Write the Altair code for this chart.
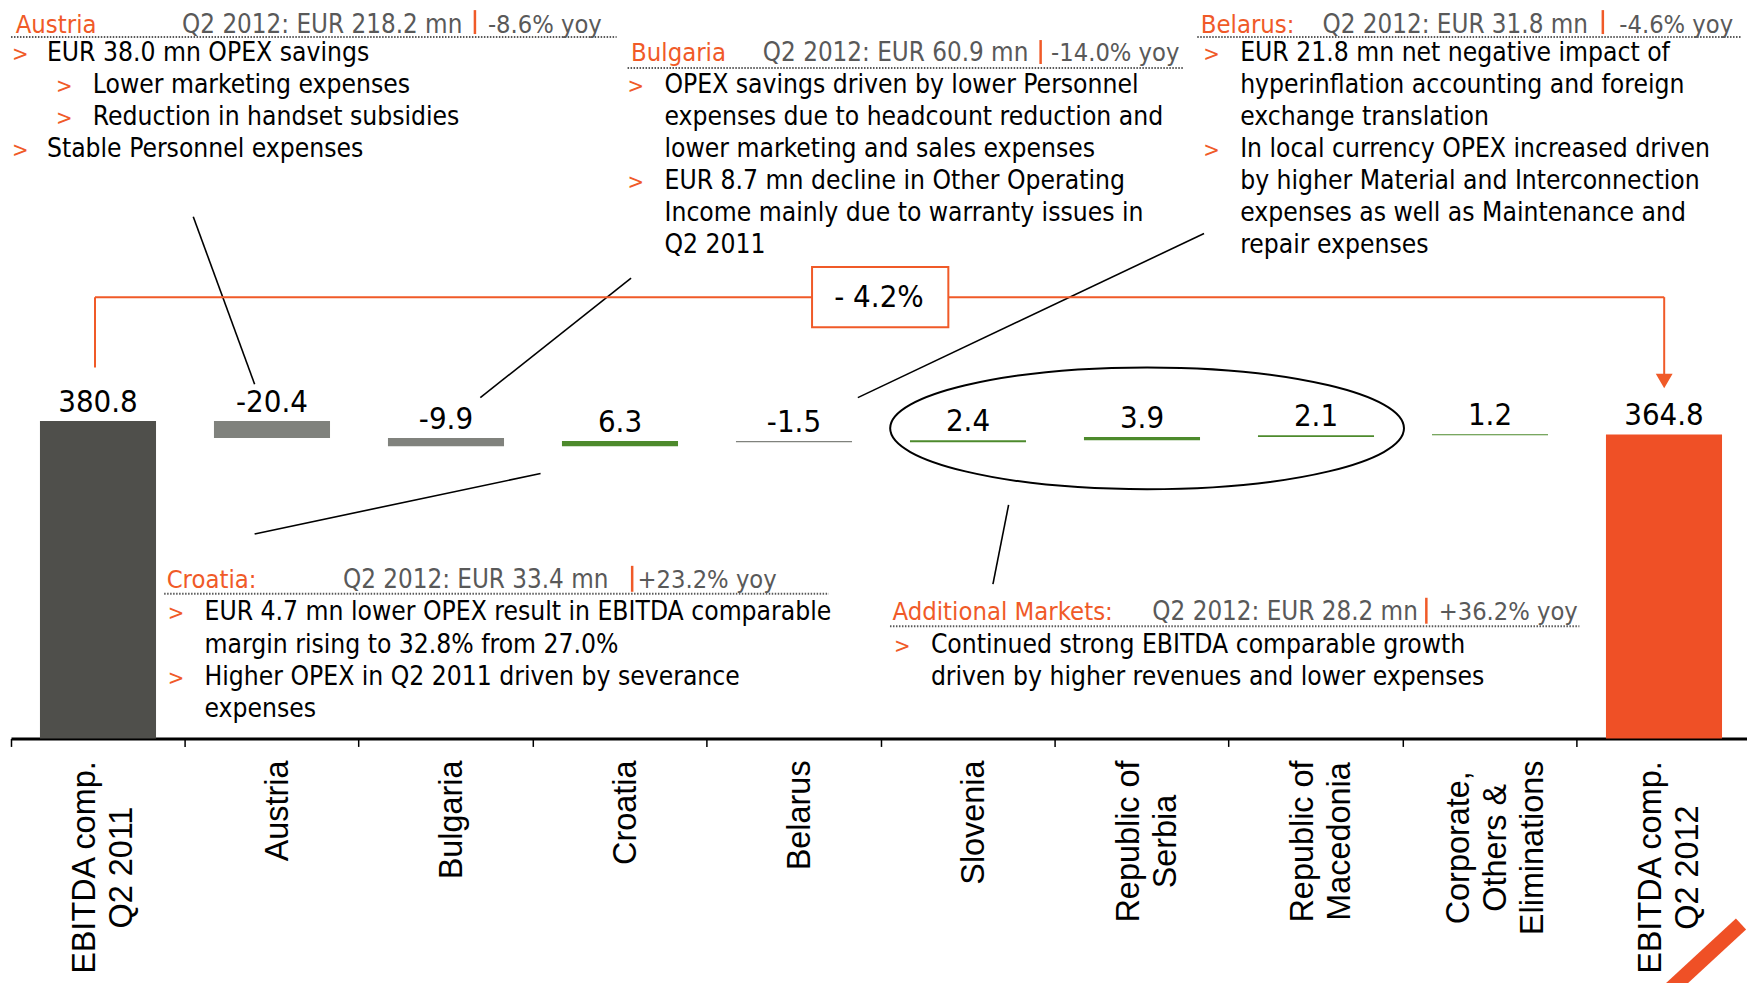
import altair as alt
import pandas as pd

# ---------------- data ----------------
categories = ["EBITDA comp.\nQ2 2011", "Austria", "Bulgaria", "Croatia", "Belarus", "Slovenia",
              "Republic of\nSerbia", "Republic of\nMacedonia", "Corporate,\nOthers &\nEliminations",
              "EBITDA comp.\nQ2 2012"]
values = [380.8, -20.4, -9.9, 6.3, -1.5, 2.4, 3.9, 2.1, 1.2, 364.8]
kinds = ["start", "delta", "delta", "delta", "delta", "delta", "delta", "delta", "delta", "end"]

# ---------------- styles ----------------
DARK, NEG, POS, END = "#4F4F4B", "#80827D", "#4D8A2C", "#EF5026"
ORANGE, GREY = "#F05A28", "#595959"
FONT = "'DejaVu Sans Condensed', 'Liberation Sans', sans-serif"
NUMFONT = "'DejaVu Sans Condensed', 'Liberation Sans Narrow', 'Liberation Sans', sans-serif"
AXFONT = "'Liberation Sans', Arial, sans-serif"
W, H = 1744, 731
OX, OY = 11, 8          # page position of the plot origin
YMAX = 875
LAB_SIZE, LAB_LH = 32.5, 37

# ---------------- waterfall table ----------------
rows, run = [], 0.0
for c, v, k in zip(categories, values, kinds):
    if k == "delta":
        s, e = run, run + v
        run = e
        col = NEG if v < 0 else POS
    else:
        s, e = 0.0, v
        run = v
        col = DARK if k == "start" else END
    rows.append({"cat": c, "start": s, "end": e, "top": max(s, e),
                 "lab": f"{v:.1f}", "col": col, "n": c.count("\n") + 1})
df = pd.DataFrame(rows)

# x-axis label anchor (labels are top-aligned, lines centred) from Arial widths
AW = {' ': 278, '.': 278, ',': 278, '&': 667, 'A': 667, 'B': 667, 'C': 722, 'D': 722, 'E': 667,
      'I': 278, 'M': 833, 'O': 778, 'Q': 778, 'R': 722, 'S': 667, 'T': 611, 'a': 556, 'b': 556,
      'c': 500, 'd': 556, 'e': 556, 'f': 278, 'g': 556, 'h': 556, 'i': 222, 'l': 222, 'm': 833,
      'n': 556, 'o': 556, 'p': 556, 'r': 333, 's': 500, 't': 278, 'u': 556, 'v': 500, 'y': 500}
def twidth(s):
    return sum(AW.get(ch, 556) for ch in s) * LAB_SIZE / 1000
df["ly"] = [761 - OY + max(twidth(l) for l in c.split("\n")) / 2 for c in categories]

xsc = alt.Scale(paddingInner=0, paddingOuter=0)
ysc = alt.Scale(domain=[0, YMAX], nice=False, zero=True)
X = alt.X("cat:N", sort=categories, scale=xsc, title=None)

bars = alt.Chart(df).mark_bar(width=alt.RelativeBandSize(0.667)).encode(
    x=alt.X("cat:N", sort=categories, scale=xsc, title=None,
            axis=alt.Axis(labels=False, title=None, grid=False, domainColor="black",
                          domainWidth=3, tickColor="black", tickWidth=1.5, tickSize=8,
                          bandPosition=0)),
    y=alt.Y("start:Q", scale=ysc, axis=None),
    y2="end:Q",
    color=alt.Color("col:N", scale=None),
)

vlabels = alt.Chart(df).mark_text(font=NUMFONT, fontSize=31, baseline="alphabetic",
                                  dy=-9, color="black").encode(
    x=X, y=alt.Y("top:Q", scale=ysc, axis=None), text="lab:N")

def xlabel_layer(n):
    return alt.Chart(df).transform_filter(alt.datum.n == n).mark_text(
        font=AXFONT, fontSize=LAB_SIZE, angle=270, align="center", baseline="middle",
        lineBreak="\n", lineHeight=LAB_LH, color="black",
        dy=6 - (n - 1) * LAB_LH / 2).encode(
        x=X, y=alt.Y("ly:Q", scale=None, axis=None), text="cat:N")
xlabels = [xlabel_layer(n) for n in (1, 2, 3)]

# ---------------- annotations (page pixel positions) ----------------
B = [32.0, 60.5, 92.4, 124.4, 156.4, 188.5, 220.6, 252.7]
C = [588.0, 620.5, 653.0, 685.5, 717.5]
t = []
BODY = 26.3
def T(x, y, s, c="black", size=BODY):
    t.append({"x": x - OX, "y": y - OY, "t": s, "c": c, "s": size})
def BL(x, y):
    T(x, y, ">", ORANGE, 22)

# headers
for (xo, xg, xy, y, name, q, yoy) in [
        (15.7, 182.5, 489, B[0], "Austria", "Q2 2012: EUR 218.2 mn", "-8.6% yoy"),
        (632.5, 764.6, 1053.5, B[1], "Bulgaria", "Q2 2012: EUR 60.9 mn", "-14.0% yoy"),
        (1203.5, 1325.5, 1623, B[0], "Belarus:", "Q2 2012: EUR 31.8 mn", "-4.6% yoy"),
        (167, 343.7, 639, C[0], "Croatia:", "Q2 2012: EUR 33.4 mn", "+23.2% yoy"),
        (894.5, 1155, 1442, C[1], "Additional Markets:", "Q2 2012: EUR 28.2 mn", "+36.2% yoy")]:
    T(xo, y, name, ORANGE, 25.5)
    T(xg, y, q, GREY, 25.8)
    T(xy, y, yoy, GREY, 25.3)

# Austria
BL(12, B[1]); T(47, B[1], "EUR 38.0 mn OPEX savings")
BL(56, B[2]); T(93, B[2], "Lower marketing expenses")
BL(56, B[3]); T(93, B[3], "Reduction in handset subsidies")
BL(12, B[4]); T(47, B[4], "Stable Personnel expenses")
# Bulgaria
BL(629, B[2]); T(666, B[2], "OPEX savings driven by lower Personnel")
T(666, B[3], "expenses due to headcount reduction and")
T(666, B[4], "lower marketing and sales expenses")
BL(629, B[5]); T(666, B[5], "EUR 8.7 mn decline in Other Operating")
T(666, B[6], "Income mainly due to warranty issues in")
T(666, B[7], "Q2 2011")
# Belarus
BL(1206, B[1]); T(1243, B[1], "EUR 21.8 mn net negative impact of")
T(1243, B[2], "hyperinflation accounting and foreign")
T(1243, B[3], "exchange translation")
BL(1206, B[4]); T(1243, B[4], "In local currency OPEX increased driven")
T(1243, B[5], "by higher Material and Interconnection")
T(1243, B[6], "expenses as well as Maintenance and")
T(1243, B[7], "repair expenses")
# Croatia
BL(168, C[1]); T(205, C[1], "EUR 4.7 mn lower OPEX result in EBITDA comparable")
T(205, C[2], "margin rising to 32.8% from 27.0%")
BL(168, C[3]); T(205, C[3], "Higher OPEX in Q2 2011 driven by severance")
T(205, C[4], "expenses")
# Additional markets
BL(896, C[2]); T(933, C[2], "Continued strong EBITDA comparable growth")
T(933, C[3], "driven by higher revenues and lower expenses")

df_t = pd.DataFrame(t)
PX = lambda f: alt.X(f, scale=None, axis=None)
PY = lambda f: alt.Y(f, scale=None, axis=None)

texts = alt.Chart(df_t).mark_text(font=FONT, align="left", baseline="alphabetic").encode(
    x=PX("x:Q"), y=PY("y:Q"), text="t:N",
    color=alt.Color("c:N", scale=None), size=alt.Size("s:Q", scale=None))

def segs(lst):
    return pd.DataFrame([{"x": a - OX, "y": b - OY, "x2": c - OX, "y2": d - OY}
                         for a, b, c, d in lst])

def rule_layer(lst, **kw):
    return alt.Chart(segs(lst)).mark_rule(**kw).encode(
        x=PX("x:Q"), y=PY("y:Q"), x2="x2:Q", y2="y2:Q")

dotted = rule_layer([(11, 36, 618, 36), (629, 67, 1187, 67), (1200, 36, 1746, 36),
                     (164.5, 594, 830.7, 594), (892, 626.5, 1583, 626.5)],
                    color=GREY, strokeWidth=2, strokeDash=[1.5, 1.5])
seps = rule_layer([(476, 9, 476, 33), (1043, 39, 1043, 63), (1606.5, 9, 1606.5, 33),
                   (633.6, 566, 633.6, 592), (1429.6, 598, 1429.6, 624)],
                  color=ORANGE, strokeWidth=2.5)
connectors = rule_layer([(193.7, 216.1, 255.2, 384), (632.5, 277.6, 481.4, 397.4),
                         (1206.8, 232.9, 859.8, 397.4), (541.8, 473.5, 255.2, 534),
                         (1010.9, 504.9, 995.2, 584.4)],
                        color="black", strokeWidth=1.6)
bracket = rule_layer([(95.2, 367.2, 95.2, 296.7), (95.2, 296.7, 1668, 296.7),
                      (1668, 296.7, 1668, 380)], color=ORANGE, strokeWidth=2)
slash = rule_layer([(1745, 925, 1667, 997)], color=END, strokeWidth=15, strokeCap="butt")

one = pd.DataFrame({"a": [0]})
box = alt.Chart(one).mark_rect(fill="white", stroke=ORANGE, strokeWidth=2).encode(
    x=alt.value(813.9 - OX), x2=alt.value(950.5 - OX),
    y=alt.value(266.4 - OY), y2=alt.value(326.9 - OY))
boxtext = alt.Chart(one).mark_text(font=NUMFONT, fontSize=31, baseline="middle",
                                   align="center", color="black").encode(
    x=alt.value(881 - OX), y=alt.value(297.8 - OY), text=alt.value("- 4.2%"))
arrow = alt.Chart(one).mark_point(shape="triangle-down", filled=True, fill=ORANGE,
                                  stroke=ORANGE, size=180, opacity=1).encode(
    x=alt.value(1668 - OX), y=alt.value(380.2 - OY))

b, k = 0.2369, 0.5523
kb = k * b
ELL = (f"M 1 0 C 1 {kb:.4f} {k} {b} 0 {b} C {-k} {b} -1 {kb:.4f} -1 0 "
       f"C -1 {-kb:.4f} {-k} {-b} 0 {-b} C {k} {-b} 1 {-kb:.4f} 1 0 Z")
ellipse = alt.Chart(one).mark_point(shape=ELL, size=515 ** 2, filled=False, stroke="black",
                                    strokeWidth=2, opacity=1).encode(
    x=alt.value(1149.7 - OX), y=alt.value(428.2 - OY))

chart = alt.layer(
    bars, vlabels, *xlabels, dotted, seps, connectors, bracket, box, boxtext, arrow,
    ellipse, texts, slash
).properties(
    width=W, height=H,
    padding={"left": 3, "top": 0, "right": -4, "bottom": 244},
    autosize=alt.AutoSizeParams(type="none"),
    background="white",
).configure_view(stroke=None)

chart.save("out.html", embed_options={"renderer": "svg", "actions": False})
